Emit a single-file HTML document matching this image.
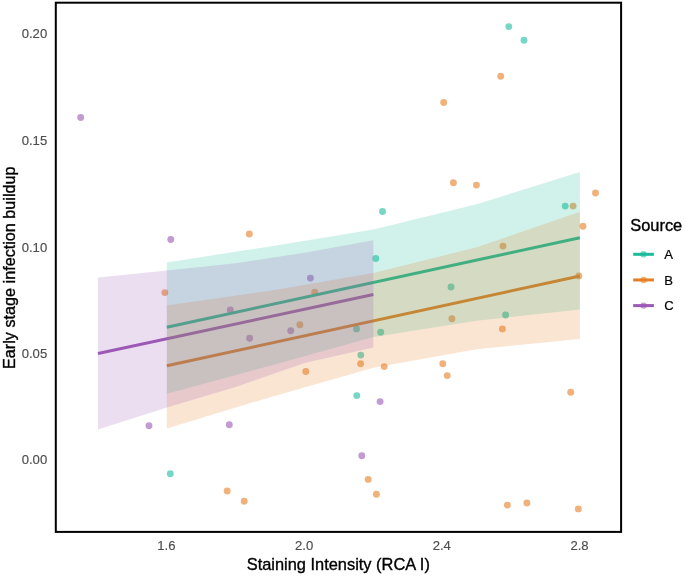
<!DOCTYPE html>
<html><head><meta charset="utf-8"><title>Chart</title>
<style>
html,body{margin:0;padding:0;background:#ffffff;}
body{width:685px;height:577px;overflow:hidden;position:relative;font-family:"Liberation Sans",sans-serif;}
</style></head><body>
<svg width="685" height="577" viewBox="0 0 685 577" style="display:block;position:absolute;left:0;top:0;filter:blur(0.45px)" font-family="'Liberation Sans', sans-serif">
<rect x="0" y="0" width="685" height="577" fill="#ffffff"/>
<g>
<circle cx="508.80" cy="26.60" r="3.45" fill="#1ABC9C" fill-opacity="0.6"/>
<circle cx="524.00" cy="40.30" r="3.45" fill="#1ABC9C" fill-opacity="0.6"/>
<circle cx="382.50" cy="211.50" r="3.45" fill="#1ABC9C" fill-opacity="0.6"/>
<circle cx="565.20" cy="206.10" r="3.45" fill="#1ABC9C" fill-opacity="0.6"/>
<circle cx="375.80" cy="258.50" r="3.45" fill="#1ABC9C" fill-opacity="0.6"/>
<circle cx="451.00" cy="287.00" r="3.45" fill="#1ABC9C" fill-opacity="0.6"/>
<circle cx="505.60" cy="315.00" r="3.45" fill="#1ABC9C" fill-opacity="0.6"/>
<circle cx="356.50" cy="328.90" r="3.45" fill="#1ABC9C" fill-opacity="0.6"/>
<circle cx="380.70" cy="332.20" r="3.45" fill="#1ABC9C" fill-opacity="0.6"/>
<circle cx="360.80" cy="355.10" r="3.45" fill="#1ABC9C" fill-opacity="0.6"/>
<circle cx="356.80" cy="395.60" r="3.45" fill="#1ABC9C" fill-opacity="0.6"/>
<circle cx="170.30" cy="473.80" r="3.45" fill="#1ABC9C" fill-opacity="0.6"/>
<circle cx="500.70" cy="76.20" r="3.45" fill="#E67E22" fill-opacity="0.6"/>
<circle cx="443.70" cy="102.50" r="3.45" fill="#E67E22" fill-opacity="0.6"/>
<circle cx="453.40" cy="182.80" r="3.45" fill="#E67E22" fill-opacity="0.6"/>
<circle cx="476.40" cy="185.10" r="3.45" fill="#E67E22" fill-opacity="0.6"/>
<circle cx="595.50" cy="193.00" r="3.45" fill="#E67E22" fill-opacity="0.6"/>
<circle cx="573.10" cy="206.10" r="3.45" fill="#E67E22" fill-opacity="0.6"/>
<circle cx="583.00" cy="226.30" r="3.45" fill="#E67E22" fill-opacity="0.6"/>
<circle cx="503.00" cy="246.10" r="3.45" fill="#E67E22" fill-opacity="0.6"/>
<circle cx="249.30" cy="234.00" r="3.45" fill="#E67E22" fill-opacity="0.6"/>
<circle cx="578.90" cy="275.90" r="3.45" fill="#E67E22" fill-opacity="0.6"/>
<circle cx="164.85" cy="292.60" r="3.45" fill="#E67E22" fill-opacity="0.6"/>
<circle cx="314.70" cy="292.10" r="3.45" fill="#E67E22" fill-opacity="0.6"/>
<circle cx="299.90" cy="324.80" r="3.45" fill="#E67E22" fill-opacity="0.6"/>
<circle cx="451.90" cy="318.80" r="3.45" fill="#E67E22" fill-opacity="0.6"/>
<circle cx="502.40" cy="328.90" r="3.45" fill="#E67E22" fill-opacity="0.6"/>
<circle cx="305.80" cy="371.50" r="3.45" fill="#E67E22" fill-opacity="0.6"/>
<circle cx="360.60" cy="363.70" r="3.45" fill="#E67E22" fill-opacity="0.6"/>
<circle cx="384.20" cy="366.60" r="3.45" fill="#E67E22" fill-opacity="0.6"/>
<circle cx="442.80" cy="363.70" r="3.45" fill="#E67E22" fill-opacity="0.6"/>
<circle cx="447.20" cy="375.60" r="3.45" fill="#E67E22" fill-opacity="0.6"/>
<circle cx="570.70" cy="392.30" r="3.45" fill="#E67E22" fill-opacity="0.6"/>
<circle cx="368.20" cy="479.40" r="3.45" fill="#E67E22" fill-opacity="0.6"/>
<circle cx="376.40" cy="494.30" r="3.45" fill="#E67E22" fill-opacity="0.6"/>
<circle cx="227.20" cy="491.05" r="3.45" fill="#E67E22" fill-opacity="0.6"/>
<circle cx="244.20" cy="501.30" r="3.45" fill="#E67E22" fill-opacity="0.6"/>
<circle cx="507.40" cy="505.10" r="3.45" fill="#E67E22" fill-opacity="0.6"/>
<circle cx="526.90" cy="503.00" r="3.45" fill="#E67E22" fill-opacity="0.6"/>
<circle cx="578.30" cy="508.90" r="3.45" fill="#E67E22" fill-opacity="0.6"/>
<circle cx="80.70" cy="117.50" r="3.45" fill="#9B59B6" fill-opacity="0.6"/>
<circle cx="170.80" cy="239.50" r="3.45" fill="#9B59B6" fill-opacity="0.6"/>
<circle cx="310.40" cy="278.10" r="3.45" fill="#9B59B6" fill-opacity="0.6"/>
<circle cx="230.30" cy="309.90" r="3.45" fill="#9B59B6" fill-opacity="0.6"/>
<circle cx="249.60" cy="338.20" r="3.45" fill="#9B59B6" fill-opacity="0.6"/>
<circle cx="290.75" cy="330.70" r="3.45" fill="#9B59B6" fill-opacity="0.6"/>
<circle cx="149.00" cy="425.70" r="3.45" fill="#9B59B6" fill-opacity="0.6"/>
<circle cx="229.30" cy="424.80" r="3.45" fill="#9B59B6" fill-opacity="0.6"/>
<circle cx="380.10" cy="401.60" r="3.45" fill="#9B59B6" fill-opacity="0.6"/>
<circle cx="361.80" cy="455.70" r="3.45" fill="#9B59B6" fill-opacity="0.6"/>
<line x1="166.80" y1="327.20" x2="579.90" y2="237.70" stroke="#1ABC9C" stroke-width="3.00" stroke-linecap="butt"/>
<line x1="166.80" y1="365.80" x2="579.90" y2="276.00" stroke="#E67E22" stroke-width="3.00" stroke-linecap="butt"/>
<line x1="98.00" y1="353.50" x2="373.35" y2="294.50" stroke="#9B59B6" stroke-width="3.00" stroke-linecap="butt"/>
<polygon points="166.80,262.40 270.07,246.40 373.35,229.40 476.62,204.20 579.90,172.00 579.90,309.60 476.62,320.70 373.35,337.00 270.07,365.70 166.80,393.80" fill="#1ABC9C" fill-opacity="0.2"/>
<polygon points="166.80,305.60 270.07,290.70 373.35,272.90 476.62,247.30 579.90,211.80 579.90,339.00 476.62,349.30 373.35,367.80 270.07,397.20 166.80,428.60" fill="#E67E22" fill-opacity="0.2"/>
<polygon points="98.00,277.40 166.84,270.40 235.68,263.30 304.51,252.70 373.35,240.30 373.35,347.40 304.51,362.90 235.68,387.10 166.84,407.50 98.00,429.50" fill="#9B59B6" fill-opacity="0.2"/>
</g>
<rect x="55.8" y="2.7" width="565.3" height="529.2" fill="none" stroke="#000000" stroke-width="2"/>
<text x="47.2" y="38.20" font-size="13.10" fill="#4D4D4D" stroke="#4D4D4D" stroke-width="0.15" text-anchor="end">0.20</text>
<text x="47.2" y="144.70" font-size="13.10" fill="#4D4D4D" stroke="#4D4D4D" stroke-width="0.15" text-anchor="end">0.15</text>
<text x="47.2" y="251.70" font-size="13.10" fill="#4D4D4D" stroke="#4D4D4D" stroke-width="0.15" text-anchor="end">0.10</text>
<text x="47.2" y="357.70" font-size="13.10" fill="#4D4D4D" stroke="#4D4D4D" stroke-width="0.15" text-anchor="end">0.05</text>
<text x="47.2" y="464.10" font-size="13.10" fill="#4D4D4D" stroke="#4D4D4D" stroke-width="0.15" text-anchor="end">0.00</text>
<text x="166.40" y="549.6" font-size="13.10" fill="#4D4D4D" stroke="#4D4D4D" stroke-width="0.15" text-anchor="middle">1.6</text>
<text x="304.10" y="549.6" font-size="13.10" fill="#4D4D4D" stroke="#4D4D4D" stroke-width="0.15" text-anchor="middle">2.0</text>
<text x="441.80" y="549.6" font-size="13.10" fill="#4D4D4D" stroke="#4D4D4D" stroke-width="0.15" text-anchor="middle">2.4</text>
<text x="579.50" y="549.6" font-size="13.10" fill="#4D4D4D" stroke="#4D4D4D" stroke-width="0.15" text-anchor="middle">2.8</text>
<text x="338.3" y="569.8" font-size="16.40" fill="#000" stroke="#000" stroke-width="0.35" text-anchor="middle">Staining Intensity (RCA I)</text>
<text transform="translate(15.1,267.7) rotate(-90)" font-size="16.20" fill="#000" stroke="#000" stroke-width="0.35" text-anchor="middle">Early stage infection buildup</text>
<text x="630.3" y="230.7" font-size="16.40" fill="#000" stroke="#000" stroke-width="0.35">Source</text>
<circle cx="643.5" cy="254.30" r="3.20" fill="#1ABC9C" fill-opacity="0.6"/>
<line x1="633.2" y1="254.30" x2="653.9" y2="254.30" stroke="#1ABC9C" stroke-width="3.00"/>
<text x="664.2" y="259.00" font-size="13.10" fill="#000" stroke="#000" stroke-width="0.2">A</text>
<circle cx="643.5" cy="279.95" r="3.20" fill="#E67E22" fill-opacity="0.6"/>
<line x1="633.2" y1="279.95" x2="653.9" y2="279.95" stroke="#E67E22" stroke-width="3.00"/>
<text x="664.2" y="284.65" font-size="13.10" fill="#000" stroke="#000" stroke-width="0.2">B</text>
<circle cx="643.5" cy="305.60" r="3.20" fill="#9B59B6" fill-opacity="0.6"/>
<line x1="633.2" y1="305.60" x2="653.9" y2="305.60" stroke="#9B59B6" stroke-width="3.00"/>
<text x="664.2" y="310.30" font-size="13.10" fill="#000" stroke="#000" stroke-width="0.2">C</text>
</svg>
</body></html>
